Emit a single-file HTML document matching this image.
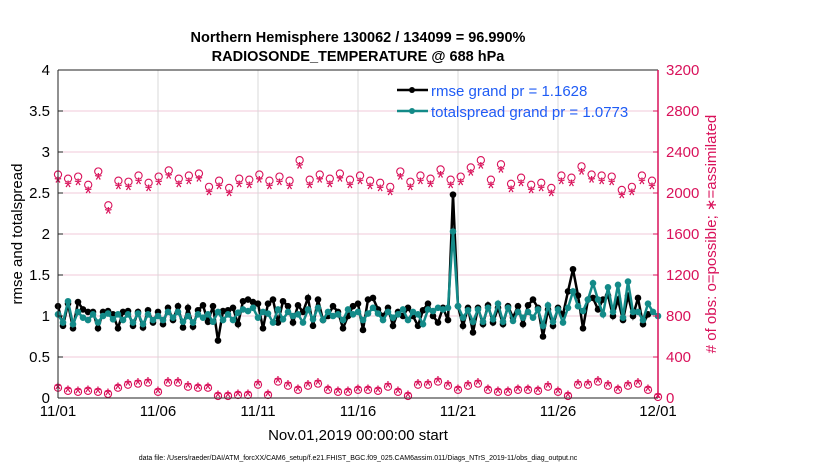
<!DOCTYPE html>
<html><head><meta charset="utf-8"><style>
body{margin:0;background:#fff;width:830px;height:470px;overflow:hidden;font-family:"Liberation Sans",sans-serif}
</style></head><body>
<svg id="chart" width="830" height="470" xmlns="http://www.w3.org/2000/svg" font-family="Liberation Sans, sans-serif">
<text x="358" y="42" text-anchor="middle" font-size="14.5" font-weight="bold">Northern Hemisphere 130062 / 134099 = 96.990%</text>
<text x="358" y="61" text-anchor="middle" font-size="14.5" font-weight="bold">RADIOSONDE_TEMPERATURE @ 688 hPa</text>
<g id="grid"></g>
<g id="marks"></g>
<g id="axes"></g>
<text transform="translate(22,234) rotate(-90)" text-anchor="middle" font-size="15">rmse and totalspread</text>
<text transform="translate(716,234) rotate(-90)" text-anchor="middle" font-size="15" fill="#d9115a"># of obs: o=possible; ∗=assimilated</text>
<text x="358" y="440" text-anchor="middle" font-size="15">Nov.01,2019 00:00:00 start</text>
<text x="358" y="460" text-anchor="middle" font-size="7">data file: /Users/raeder/DAI/ATM_forcXX/CAM6_setup/f.e21.FHIST_BGC.f09_025.CAM6assim.011/Diags_NTrS_2019-11/obs_diag_output.nc</text>
<g>
<line x1="397" y1="90" x2="428" y2="90" stroke="#000" stroke-width="2.5"/><circle cx="412" cy="90" r="3" fill="#000"/>
<text x="431" y="96" font-size="15" fill="#1f5cf5">rmse grand pr = 1.1628</text>
<line x1="397" y1="111" x2="428" y2="111" stroke="#138a88" stroke-width="2.5"/><circle cx="412" cy="111" r="3" fill="#138a88"/>
<text x="431" y="117" font-size="15" fill="#1f5cf5">totalspread grand pr = 1.0773</text>
</g>
</svg>
<script>
const xTickLabels=["11/01","11/06","11/11","11/16","11/21","11/26","12/01"];
const yTicks=["0","0.5","1","1.5","2","2.5","3","3.5","4"];
const y2Ticks=["0","400","800","1200","1600","2000","2400","2800","3200"];
const rmse=[1.12,0.88,1.15,0.85,1.17,1.08,1.05,1.05,0.85,1.05,1.06,1.02,0.85,1.05,1.06,0.88,1.05,0.86,1.07,0.92,1.05,0.9,1.1,0.95,1.12,0.86,1.1,0.87,1.07,1.13,0.93,1.12,0.7,1.06,1.07,1.1,0.9,1.18,1.2,1.17,1.15,0.85,1.15,1.2,0.92,1.18,1.12,0.92,1.13,1.05,1.22,0.88,1.2,0.95,1.0,1.12,1.05,0.85,1.0,1.12,1.15,0.83,1.2,1.22,1.08,1.0,1.1,0.88,1.05,1.0,1.1,1.0,0.88,1.07,1.15,1.0,0.92,1.1,0.95,2.48,1.12,0.88,1.1,0.8,1.1,0.9,1.13,0.92,1.1,0.9,1.12,0.98,1.12,0.9,1.13,1.2,1.1,0.75,1.08,0.88,1.1,1.02,1.3,1.57,1.25,0.85,1.2,1.22,1.08,1.2,1.25,1.0,1.2,0.95,1.25,1.0,1.22,0.9,1.02];
const spread=[1.02,0.92,1.18,0.9,1.05,0.98,0.95,1.02,0.92,1.0,1.03,0.96,1.02,0.95,1.02,0.92,1.03,0.9,1.02,0.95,1.0,0.95,1.05,0.98,1.05,0.93,1.0,0.92,1.02,0.98,1.02,0.93,1.05,0.95,1.02,0.95,1.04,1.08,1.06,1.1,0.98,1.05,1.03,0.92,1.08,0.96,1.05,1.0,1.02,0.92,1.08,0.96,1.1,0.95,1.05,1.0,1.02,0.95,1.08,1.02,1.05,0.95,1.03,1.1,1.03,0.95,1.05,0.98,1.02,1.08,0.95,1.05,1.02,0.9,1.08,1.06,1.1,1.08,1.1,2.03,1.12,0.98,1.07,0.93,1.08,0.93,1.1,0.96,1.15,0.93,1.1,0.94,1.05,0.98,1.05,0.98,1.08,0.88,1.13,0.93,1.08,0.92,1.1,1.3,1.12,1.06,1.2,1.4,1.2,1.02,1.35,1.05,1.38,0.98,1.42,1.05,1.05,0.95,1.15,1.05,1.0];
const possibleHi=[2180,2140,2160,2080,2210,1880,2120,2110,2170,2100,2160,2220,2140,2170,2190,2060,2120,2050,2140,2130,2180,2120,2160,2120,2320,2130,2180,2140,2190,2130,2170,2120,2100,2060,2210,2110,2170,2140,2230,2130,2160,2250,2320,2130,2280,2090,2150,2080,2100,2050,2170,2150,2260,2180,2170,2160,2030,2060,2170,2120];
const assimHi=[2110,2070,2090,2010,2140,1810,2050,2040,2100,2030,2090,2150,2070,2100,2120,1990,2050,1980,2070,2060,2110,2050,2090,2050,2250,2060,2110,2070,2120,2060,2100,2050,2030,1990,2140,2040,2100,2070,2160,2060,2090,2180,2250,2060,2210,2020,2080,2010,2030,1980,2100,2080,2190,2110,2100,2090,1960,1990,2100,2050];
const possibleLo=[100,70,60,70,60,40,100,130,140,150,60,150,150,110,100,100,20,20,30,30,130,30,160,120,80,120,140,80,60,60,80,80,70,110,60,20,130,130,160,120,80,120,140,80,60,60,80,80,70,110,60,20,130,130,160,120,80,120,140,80,10];
const assimLo=possibleLo;
const X0=58,X1=658,Y0=398,Y1=70;
const xPosL=i=>X0+5*i;
const yR=v=>Y0-(Y0-Y1)*v/3200;
const yv=v=>Y0-(Y0-Y1)*v/4;
const ns="http://www.w3.org/2000/svg";
function mk(tag,attrs,parent){const e=document.createElementNS(ns,tag);for(const k in attrs)e.setAttribute(k,attrs[k]);parent.appendChild(e);return e;}
const grid=document.getElementById('grid'),marks=document.getElementById('marks'),axes=document.getElementById('axes');
yTicks.forEach((t,i)=>{const y=Y0-(Y0-Y1)*i/8;
 if(i>0&&i<8){const g=mk('line',{x1:X0,x2:X1,y1:y,y2:y,stroke:'#f2c8d8','stroke-width':1},grid);
 
 }
 const tl=mk('text',{x:X0-8,y:y+5,'text-anchor':'end','font-size':15},axes);tl.textContent=t;
 
 
 mk('line',{x1:X0,x2:X0+5,y1:y,y2:y,stroke:'#222'},axes);
 const r=mk('text',{x:X1+8,y:y+5,'font-size':15,fill:'#d9115a'},axes);r.textContent=y2Ticks[i];
 
 
 mk('line',{x1:X1-5,x2:X1,y1:y,y2:y,stroke:'#d9115a'},axes);
});
xTickLabels.forEach((t,i)=>{const x=X0+(X1-X0)*i/6;
 if(i>0&&i<6){const g=mk('line',{x1:x,x2:x,y1:Y1,y2:Y0,stroke:'#d8d8d8'},grid);
 
 }
 const tl=mk('text',{x:x,y:Y0+18,'text-anchor':'middle','font-size':15},axes);tl.textContent=t;
 
 
});
mk('line',{x1:X0,x2:X0,y1:Y1,y2:Y0,stroke:'#222'},axes);
mk('line',{x1:X0,x2:X1,y1:Y0,y2:Y0,stroke:'#222'},axes);
mk('line',{x1:X0,x2:X1,y1:Y1,y2:Y1,stroke:'#222'},axes);
mk('line',{x1:X1,x2:X1,y1:Y1,y2:Y0,stroke:'#d9115a','stroke-width':1.5},axes);
function obs(arr,type,name,xf){arr.forEach((v,i)=>{const x=xf(i),y=yR(v);
 let t;
 if(type==='o'){t=mk('circle',{cx:x,cy:y,r:3.6,fill:'none',stroke:'#d9115a','stroke-width':1.1},marks);}
 else{t=mk('text',{x:x,y:y+8,'text-anchor':'middle','font-size':19,fill:'#d9115a'},marks);t.textContent='*';}
 
 });}
const xo=i=>X0+(X1-X0-6)*i/(possibleHi.length-1);
const xl=i=>X0+(X1-X0)*i/(possibleLo.length-1);
obs(possibleHi,'o','obs-possible',xo);obs(assimHi,'*','obs-assimilated',xo);
obs(possibleLo,'o','obs-possible-low',xl);obs(assimLo,'*','obs-assimilated-low',xl);
function series(arr,color,name,r){
 const pts=arr.map((v,i)=>xPosL(i)+','+yv(v)).join(' ');
 const p=mk('polyline',{points:pts,fill:'none',stroke:color,'stroke-width':2.5},marks);
 
 
 arr.forEach((v,i)=>{const c=mk('circle',{cx:xPosL(i),cy:yv(v),r:r,fill:color},marks);
 
 });}
series(rmse,'#000','rmse',3.3);
series(spread,'#138a88','totalspread',3.3);
</script>
</body></html>
